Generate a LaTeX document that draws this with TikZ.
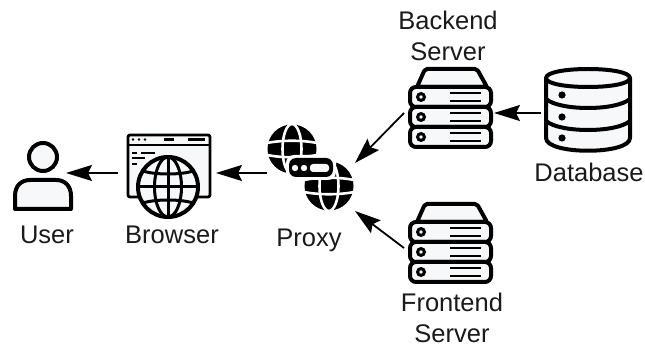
\documentclass[tikz,border=0pt]{standalone}
\usepackage{fontspec}
\setmainfont{Liberation Sans}
\usepackage{xcolor}
\usetikzlibrary{arrows.meta}
\definecolor{iconfill}{HTML}{F6F8FA}
\definecolor{labeltext}{HTML}{1A1A1A}
\tikzset{
	icon/.style={line width=4pt, draw=black, fill=iconfill, line join=round},
	box/.style={inner sep=0pt, outer sep=0pt},
	label/.style={font=\fontsize{25.5}{31}\selectfont, text=labeltext, align=center, inner sep=0pt},
	flow/.style={-{Stealth[length=26pt, width=16pt, inset=4pt]}, line width=1.8pt},
	server/.pic={
		\draw[icon, rounded corners=2pt] (-33,19) -- (-25,1) -- (27,1) -- (37,19) -- cycle;
		\foreach \y in {19,39,59} {
			\draw[icon, rounded corners=6pt] (-40,\y) rectangle (41,\y+20);
			\draw[line width=3pt] (-29,\y+10) circle (3.4);
			\foreach \d in {6,14}
				\draw[line width=2.8pt] (0,\y+\d) -- (31,\y+\d);
		}
	},
	blackglobe/.pic={
		\fill[black] (0,0) circle (24.5);
		\draw[white, line width=2.6pt] (0,0) ellipse (9.5 and 25);
		\draw[white, line width=2.6pt] (-25,-6) .. controls (-10,-9) and (10,-9) .. (25,-6);
		\draw[white, line width=2.6pt] (-25,6) .. controls (-10,9) and (10,9) .. (25,6);
	}
}
\begin{document}
\begin{tikzpicture}[x=1pt, y=-1pt]
	\useasboundingbox (0,0) rectangle (645,347);
	\fill[white] (0,0) rectangle (645,347);
	% invisible boxes the arrows run between
	\node[box, minimum width=46pt, minimum height=40pt] (user) at (43,173) {};
	\node[box, minimum width=98pt, minimum height=70pt] (browser) at (167,173) {};
	\node[box, minimum width=88pt, minimum height=48pt] (proxy) at (311,187) {};
	\node[box, minimum width=90pt, minimum height=80pt] (backend) at (449,113) {};
	\node[box, minimum width=90pt, minimum height=80pt] (frontend) at (449,248) {};
	\node[box, minimum width=94pt, minimum height=84pt] (database) at (588,113) {};
	% user
	\draw[icon] (43,157) circle (14);
	\draw[icon] (15,209) -- (15,196) .. controls (15,185) and (22,180) .. (30,180) -- (56,180) .. controls (65,180) and (71,186) .. (71,196) -- (71,209) -- cycle;
	% browser
	\draw[icon, line width=2.8pt, rounded corners=2pt] (128,135) rectangle (210,197);
	\draw[line width=2.4pt] (128,145) -- (210,145);
	\foreach \x in {133,139,145}
		\fill (\x,139.5) circle (1.4);
	\draw[line width=2.2pt] (164,139.5) -- (174,139.5);
	\draw[line width=2.2pt] (188,139.5) -- (205,139.5);
	\draw[line width=2.2pt] (132,153) -- (137,153);
	\draw[line width=2.2pt] (141,153) -- (155,153);
	\draw[line width=2.2pt] (132,158) -- (145,158);
	\draw[line width=2.2pt] (132,164) -- (137,164);
	\draw[icon] (168,187) circle (30);
	\draw[line width=3pt] (168,187) ellipse (13.5 and 30);
	\draw[line width=3pt] (168,157) -- (168,217);
	\draw[line width=3pt] (138,187) -- (198,187);
	\draw[line width=3pt] (143,171) .. controls (155,175) and (181,175) .. (193,171);
	\draw[line width=3pt] (143,203) .. controls (155,199) and (181,199) .. (193,203);
	% proxy
	\pic at (292,149) {blackglobe};
	\pic at (329,186) {blackglobe};
	\fill[white, rounded corners=8pt] (286,155) rectangle (336,180);
	\fill[black, rounded corners=7pt] (289,158) rectangle (333,177);
	\fill[iconfill] (295,168) circle (3.2);
	\fill[iconfill] (304,168) circle (3.2);
	\fill[iconfill, rounded corners=3pt] (310,164) rectangle (329,172);
	% servers
	\pic at (450,68) {server};
	\pic at (450,203) {server};
	% database
	\draw[icon] (546,78) -- (546,138) .. controls (546,155) and (630,155) .. (630,138) -- (630,78);
	\draw[icon] (546,78) .. controls (546,66) and (630,66) .. (630,78) .. controls (630,90) and (546,90) .. (546,78) -- cycle;
	\foreach \y in {108,130}
		\draw[line width=4pt] (546,\y-9) .. controls (560,\y+3) and (616,\y+3) .. (630,\y-9);
	\foreach \y in {95,117,138}
		\fill (562,\y) circle (3.6);
	% labels
	\node[label, anchor=base] (userlabel) at (47,244) {User};
	\node[label, anchor=base] (browserlabel) at (172,244) {Browser};
	\node[label, anchor=base] (proxylabel) at (309,247) {Proxy};
	\node[label] (backendlabel) at (448,36) {Backend\\Server};
	\node[label, anchor=base] (databaselabel) at (589,182) {Database};
	\node[label] (frontendlabel) at (452,318) {Frontend\\Server};
	% arrows
	\draw[flow] (browser.west) -- (user.east);
	\draw[flow] (proxy.west |- browser.east) -- (browser.east);
	\draw[flow] (backend.west) -- (proxy.north east);
	\draw[flow] (frontend.west) -- (proxy.south east);
	\draw[flow] (database.west) -- (backend.east);
\end{tikzpicture}
\end{document}
